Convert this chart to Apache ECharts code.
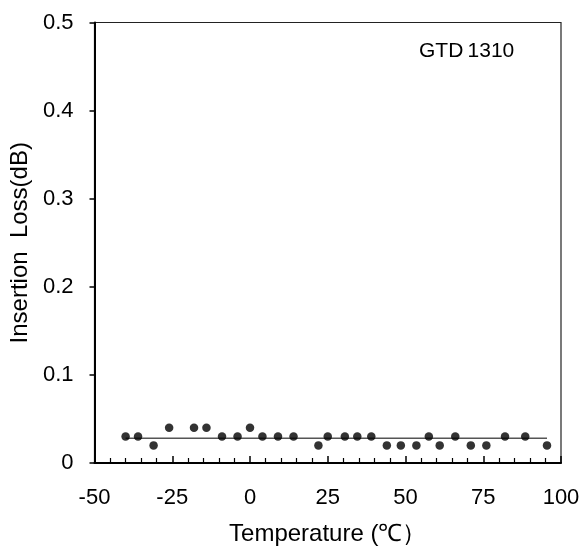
<!DOCTYPE html>
<html>
<head>
<meta charset="utf-8">
<script src="https://cdn.jsdelivr.net/npm/echarts@6/dist/echarts.min.js"></script>
<style>
html,body{margin:0;padding:0;background:#fff;}
#chart{width:585px;height:552px;}
</style>
</head>
<body>
<div id="chart"></div>
<script>
// Data
var temperatures = [-40, -36, -31, -26, -18, -14, -9, -4, 0, 4, 9, 14, 22, 25, 30.5, 34.5, 39, 44, 48.5, 53.5, 57.5, 61, 66, 71, 76, 82, 88.5, 95.5];
var insertionLoss = [0.03, 0.03, 0.02, 0.04, 0.04, 0.04, 0.03, 0.03, 0.04, 0.03, 0.03, 0.03, 0.02, 0.03, 0.03, 0.03, 0.03, 0.02, 0.02, 0.02, 0.03, 0.02, 0.03, 0.02, 0.02, 0.03, 0.03, 0.02];
var trendX = [-40, 95.5];
var trendY = [0.028, 0.028];
var seriesLabel = "GTD\u20091310";
var xTitle = "Temperature (\u2103\uFF09";
var yTitle = "Insertion  Loss(dB)";

var FONT = "'Liberation Sans', Arial, sans-serif";

var points = temperatures.map(function (t, i) { return [t, insertionLoss[i]]; });
var trend = trendX.map(function (t, i) { return [t, trendY[i]]; });

var chart = echarts.init(document.getElementById('chart'), null, {renderer: 'canvas'});
chart.setOption({
  animation: false,
  backgroundColor: '#fff',
  grid: {left: 94.5, right: 24, top: 22.5, bottom: 89, show: true, borderColor: '#222', borderWidth: 1.2, backgroundColor: 'transparent'},
  xAxis: {
    type: 'value', min: -50, max: 100, interval: 25,
    name: xTitle, nameLocation: 'middle', nameGap: 59,
    nameTextStyle: {fontFamily: FONT, fontSize: 24, color: '#000'},
    axisLine: {show: true, onZero: false, lineStyle: {color: '#000', width: 2}},
    axisTick: {show: true, inside: true, length: 7, lineStyle: {color: '#000', width: 1.5}},
    minorTick: {show: true, splitNumber: 5, length: 5, lineStyle: {color: '#000', width: 1.2}},
    axisLabel: {fontFamily: FONT, fontSize: 22, color: '#000', margin: 24},
    splitLine: {show: false}
  },
  yAxis: {
    type: 'value', min: 0, max: 0.5, interval: 0.1,
    name: yTitle, nameLocation: 'middle', nameGap: 61, nameRotate: 90,
    nameTextStyle: {fontFamily: FONT, fontSize: 24, color: '#000'},
    axisLine: {show: true, onZero: false, lineStyle: {color: '#000', width: 2}},
    axisTick: {show: true, inside: false, length: 5, lineStyle: {color: '#000', width: 1.5}},
    axisLabel: {fontFamily: FONT, fontSize: 22, color: '#000', margin: 21,
      formatter: function (v) { return v === 0 ? '0' : v.toFixed(1); }},
    splitLine: {show: false}
  },
  graphic: [{
    type: 'text', left: 419, top: 41,
    style: {text: seriesLabel, fontFamily: FONT, fontSize: 21, fill: '#000'}
  }],
  series: [
    {
      type: 'line', data: trend, symbol: 'none',
      lineStyle: {color: '#555', width: 1.5}, z: 1
    },
    {
      type: 'scatter', data: points, symbol: 'circle', symbolSize: 8.5,
      itemStyle: {color: '#000'}, z: 2
    }
  ]
});
</script>
</body>
</html>
